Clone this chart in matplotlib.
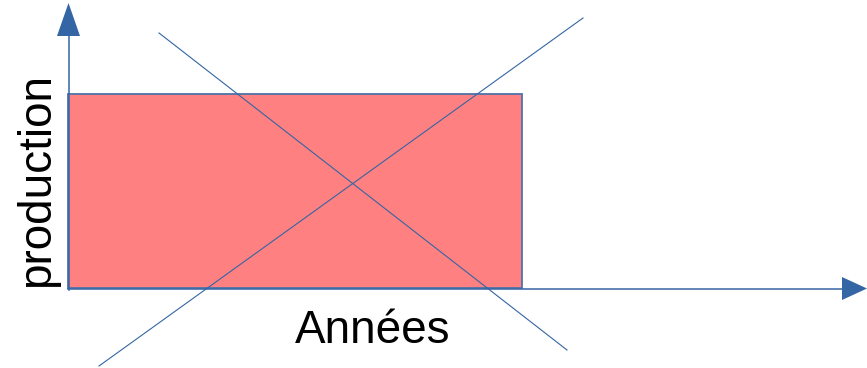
import matplotlib.pyplot as plt
from matplotlib.patches import Rectangle, Polygon

# pixel-like coordinates, y grows downward
axis_origin = (68.5, 288.5)
y_axis_top = 36
x_axis_end = 842
rect_x = [68, 522]
rect_y = [94, 288]
line_down_x = [159, 567]
line_down_y = [33, 350]
line_up_x = [99, 583]
line_up_y = [366, 18]
ylabel = "production"
xlabel = "Années"

BLUE = "#3465a4"

fig = plt.figure(figsize=(8.67, 3.68), dpi=100)
ax = fig.add_axes([0, 0, 1, 1])
ax.set_xlim(0, 867)
ax.set_ylim(368, 0)
ax.axis("off")

ax.add_patch(Rectangle((rect_x[0], rect_y[0]), rect_x[1] - rect_x[0], rect_y[1] - rect_y[0],
                       facecolor="#ff8080", edgecolor="#4f72a8", linewidth=1.3, zorder=1))

ox, oy = axis_origin
ax.plot([ox, ox], [oy + 1, y_axis_top], color=BLUE, lw=1.1, zorder=2)
ax.plot([ox - 0.5, x_axis_end], [oy, oy], color=BLUE, lw=1.1, zorder=2)
ax.add_patch(Polygon([(ox - 11.5, y_axis_top), (ox + 11.5, y_axis_top), (ox, 3)],
                     closed=True, color=BLUE, lw=0, zorder=3))
ax.add_patch(Polygon([(x_axis_end, oy - 11.5), (x_axis_end, oy + 11.5), (867, oy)],
                     closed=True, color=BLUE, lw=0, zorder=3))

ax.plot(line_down_x, line_down_y, color=BLUE, lw=0.8, zorder=4)
ax.plot(line_up_x, line_up_y, color=BLUE, lw=0.8, zorder=4)

ax.text(49.5, 180, ylabel, rotation=90, rotation_mode="anchor", ha="center", va="baseline",
        fontsize=33, family="Liberation Sans", color="black")
ax.text(372.5, 343, xlabel, ha="center", va="baseline",
        fontsize=33, family="Liberation Sans", color="black")

fig.savefig("out.png", dpi=100)
